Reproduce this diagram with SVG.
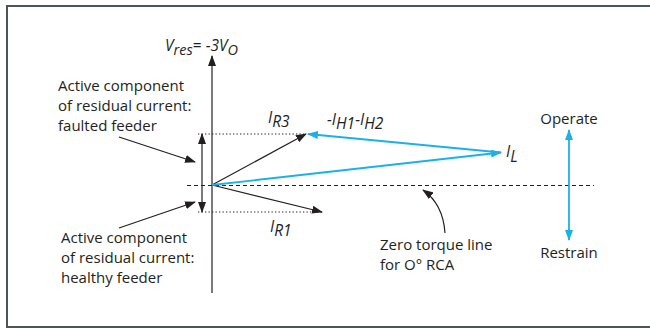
<svg xmlns="http://www.w3.org/2000/svg" width="650" height="329" viewBox="0 0 650 329">
<style>
.t{font-family:"Open Sans","Noto Sans","Liberation Sans",sans-serif;font-size:15px;fill:#231f20}
.m{font-family:"Open Sans","Noto Sans","Liberation Sans",sans-serif;font-size:15.5px;font-style:italic;fill:#231f20}
.k{stroke:#231f20;stroke-width:1.2;fill:none}
.b{stroke:#1cb1e6;stroke-width:1.8;fill:none}
.dash{stroke:#231f20;stroke-width:1.1;stroke-dasharray:4 3;fill:none}
.dot{stroke:#231f20;stroke-width:1.2;stroke-dasharray:1.3 2.2;fill:none}
</style>
<defs>
<marker id="ak" markerUnits="userSpaceOnUse" markerWidth="11" markerHeight="8" refX="10" refY="4" orient="auto-start-reverse" viewBox="0 0 11 8">
<path d="M0,0 L11,4 L0,8 z" fill="#231f20"/>
</marker>
<marker id="ab" markerUnits="userSpaceOnUse" markerWidth="11" markerHeight="8" refX="10" refY="4" orient="auto-start-reverse" viewBox="0 0 11 8">
<path d="M0,0 L11,4 L0,8 z" fill="#1cb1e6"/>
</marker>
</defs>
<rect width="650" height="329" fill="#fff"/>
<path d="M652,6 H7 V327 H652" fill="none" stroke="#4d545c" stroke-width="2"/>

<g id="connectors">
<line class="k" x1="212" y1="293" x2="212" y2="56" marker-end="url(#ak)"/>
<line class="dash" x1="187" y1="185.5" x2="594" y2="185.5"/>
<line class="dot" x1="198" y1="134" x2="305" y2="134"/>
<line class="dot" x1="198" y1="212" x2="322" y2="212"/>
<line class="k" x1="212" y1="185" x2="306" y2="134" marker-end="url(#ak)"/>
<line class="k" x1="212" y1="185" x2="322" y2="212" marker-end="url(#ak)"/>
<line class="k" x1="202" y1="134" x2="202" y2="212" marker-start="url(#ak)" marker-end="url(#ak)"/>
<line class="k" x1="119" y1="137" x2="195" y2="162" marker-end="url(#ak)"/>
<line class="k" x1="119" y1="228" x2="195" y2="202" marker-end="url(#ak)"/>
<line class="b" x1="212" y1="185" x2="501" y2="152.5" marker-end="url(#ab)"/>
<line class="b" x1="501" y1="152.5" x2="308" y2="134" marker-end="url(#ab)"/>
<line class="b" x1="569" y1="130" x2="569" y2="240" marker-start="url(#ab)" marker-end="url(#ab)"/>
<path class="k" d="M445,233 Q443,204 423,190" marker-end="url(#ak)"/>
</g>

<g id="vres-label"><text class="m" x="165" y="51">V<tspan dy="4" font-size="14.5">res</tspan><tspan dy="-4" font-style="normal">= </tspan>-3V<tspan dy="4" font-size="14.5">O</tspan></text></g>
<g id="faulted-label"><text class="t" x="58" y="91">Active component</text><text class="t" x="58" y="111">of residual current:</text><text class="t" x="58" y="131">faulted feeder</text></g>
<g id="healthy-label"><text class="t" x="61" y="243">Active component</text><text class="t" x="61" y="263">of residual current:</text><text class="t" x="61" y="283">healthy feeder</text></g>
<g id="ir3-label"><text class="m" x="268" y="123">I<tspan dy="4">R3</tspan></text></g>
<g id="ir1-label"><text class="m" x="270" y="232">I<tspan dy="4">R1</tspan></text></g>
<g id="ih-label"><text class="m" x="327" y="125">-I<tspan dy="4">H1</tspan><tspan dy="-4">-I</tspan><tspan dy="4">H2</tspan></text></g>
<g id="il-label"><text class="m" x="506" y="157">I<tspan dy="5">L</tspan></text></g>
<g id="operate-label"><text class="t" x="569" y="124" text-anchor="middle">Operate</text></g>
<g id="restrain-label"><text class="t" x="569" y="258" text-anchor="middle">Restrain</text></g>
<g id="zero-torque-label"><text class="t" x="380" y="250">Zero torque line</text><text class="t" x="380" y="270">for O° RCA</text></g>
</svg>
